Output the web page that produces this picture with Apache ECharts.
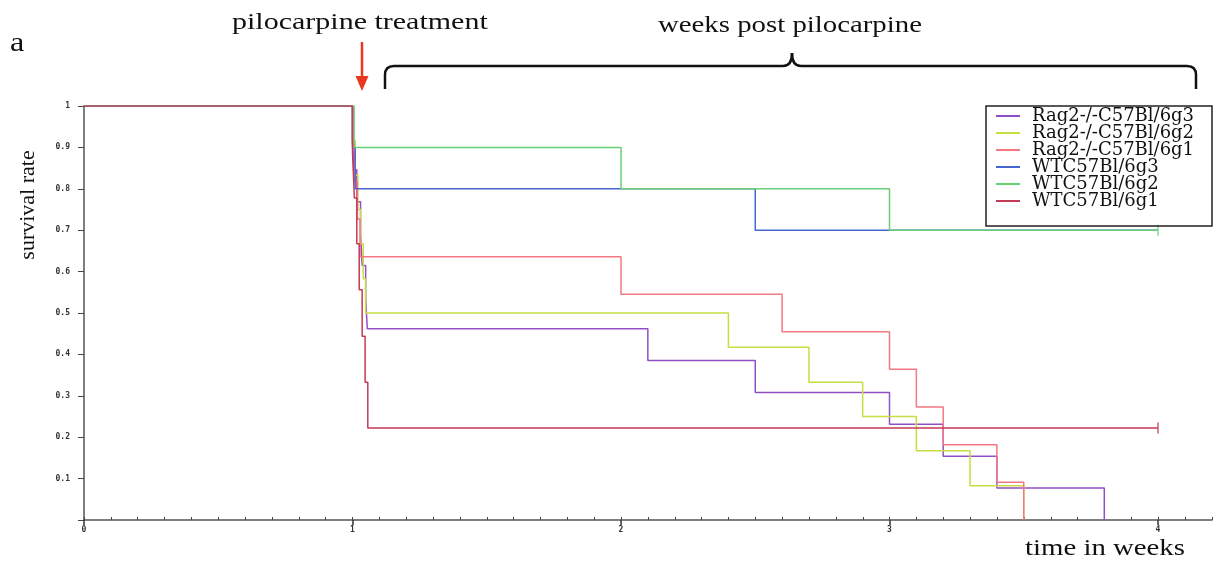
<!DOCTYPE html>
<html>
<head>
<meta charset="utf-8">
<script src="https://cdn.jsdelivr.net/npm/echarts@6/dist/echarts.min.js"></script>
<style>
  html, body { margin: 0; padding: 0; background: #fff; }
  #chart { width: 1213px; height: 561px; }
</style>
</head>
<body>
<div id="chart"></div>
<script>
// Kaplan-Meier steps: survival value holds from time[i] until time[i+1]
const seriesNames = ['Rag2-/-C57Bl/6g3', 'Rag2-/-C57Bl/6g2', 'Rag2-/-C57Bl/6g1', 'WTC57Bl/6g3', 'WTC57Bl/6g2', 'WTC57Bl/6g1']
const seriesColors = ['#9150c6', '#c9dc42', '#f27882', '#4766d0', '#68cf78', '#c53a55']

const rag2g3Time = [0, 1.0, 1.005, 1.016, 1.03, 1.036, 1.049, 1.055, 2.1, 2.5, 3.0, 3.2, 3.4, 3.8]
const rag2g3Surv = [1, 0.923, 0.846, 0.769, 0.692, 0.615, 0.538, 0.462, 0.385, 0.308, 0.231, 0.154, 0.077, 0]

const rag2g2Time = [0, 1.0, 1.01, 1.02, 1.03, 1.04, 1.049, 2.4, 2.7, 2.9, 3.1, 3.3, 3.5]
const rag2g2Surv = [1, 0.917, 0.833, 0.75, 0.667, 0.583, 0.5, 0.417, 0.333, 0.25, 0.167, 0.083, 0]

const rag2g1Time = [0, 1.0, 1.008, 1.018, 1.028, 2.0, 2.6, 3.0, 3.1, 3.2, 3.4, 3.5]
const rag2g1Surv = [1, 0.909, 0.818, 0.727, 0.636, 0.545, 0.455, 0.364, 0.273, 0.182, 0.091, 0]

const wtg3Time = [0, 1.0, 1.01, 2.5, 4.0]
const wtg3Surv = [1, 0.9, 0.8, 0.7, 0.7]

const wtg2Time = [0, 1.006, 2.0, 3.0, 4.0]
const wtg2Surv = [1, 0.9, 0.8, 0.7, 0.7]

const wtg1Time = [0, 1.0, 1.007, 1.016, 1.025, 1.036, 1.047, 1.057, 4.0]
const wtg1Surv = [1, 0.889, 0.778, 0.667, 0.556, 0.444, 0.333, 0.222, 0.222]

// censored at end of follow-up
const censorTime = [4.0, 4.0]
const censorSurv = [0.7, 0.222]
const censorColors = ['#68cf78', '#c53a55']

const xTicks = [0, 1, 2, 3, 4]

const curves = [
  [rag2g3Time, rag2g3Surv],
  [rag2g2Time, rag2g2Surv],
  [rag2g1Time, rag2g1Surv],
  [wtg3Time, wtg3Surv],
  [wtg2Time, wtg2Surv],
  [wtg1Time, wtg1Surv]
]

const zip = (xs, ys) => xs.map((x, i) => [x, ys[i]])

const chart = echarts.init(document.getElementById('chart'), null, { renderer: 'canvas' })

const tiny = { fontFamily: 'DejaVu Sans Mono', fontSize: 8, fontWeight: 'bold', color: '#333' }
const titleFont = '24px "Liberation Serif"'

const lineSeries = curves.map((c, i) => ({
  name: seriesNames[i],
  type: 'line',
  step: 'end',
  xAxisIndex: 0,
  yAxisIndex: 0,
  data: zip(c[0], c[1]),
  symbol: 'none',
  color: seriesColors[i],
  lineStyle: { width: 1.5, color: seriesColors[i] },
  animation: false,
  z: 2 + i
}))

const censorSeries = {
  type: 'scatter',
  xAxisIndex: 0,
  yAxisIndex: 0,
  symbol: 'rect',
  symbolSize: [1.5, 11],
  data: censorTime.map((t, i) => ({ value: [t, censorSurv[i]], itemStyle: { color: censorColors[i] } })),
  animation: false,
  z: 10
}

// curly brace over the post-treatment weeks (decoration)
const braceStroke = { stroke: '#111', lineWidth: 2.5, fill: 'none' }
const brace = [
  { type: 'line', shape: { x1: 385, y1: 89, x2: 385, y2: 75 }, style: braceStroke },
  { type: 'bezierCurve', shape: { x1: 385, y1: 75, cpx1: 385, cpy1: 66, x2: 394, y2: 66 }, style: braceStroke },
  { type: 'line', shape: { x1: 394, y1: 66, x2: 783, y2: 66 }, style: braceStroke },
  { type: 'bezierCurve', shape: { x1: 783, y1: 66, cpx1: 792, cpy1: 66, x2: 792, y2: 53 }, style: braceStroke },
  { type: 'bezierCurve', shape: { x1: 792, y1: 53, cpx1: 792, cpy1: 66, x2: 801, y2: 66 }, style: braceStroke },
  { type: 'line', shape: { x1: 801, y1: 66, x2: 1187, y2: 66 }, style: braceStroke },
  { type: 'bezierCurve', shape: { x1: 1187, y1: 66, cpx1: 1196, cpy1: 66, x2: 1196, y2: 75 }, style: braceStroke },
  { type: 'line', shape: { x1: 1196, y1: 75, x2: 1196, y2: 89 }, style: braceStroke }
]

const option = {
  backgroundColor: '#fff',
  animation: false,
  grid: [
    { left: 84, right: 55, top: 106, bottom: 41 },
    { left: 84, right: 1, top: 106, bottom: 41 }
  ],
  xAxis: [
    {
      type: 'value', gridIndex: 0, min: 0, max: 4, interval: 1,
      axisLine: { show: false },
      axisTick: { show: true, inside: false, length: 5, lineStyle: { color: '#333', width: 1.5 } },
      axisLabel: Object.assign({ margin: 6, formatter: v => xTicks.includes(v) ? String(v) : '' }, tiny),
      splitLine: { show: false }
    },
    {
      type: 'value', gridIndex: 1, min: 0, max: 4.2, interval: 0.1,
      axisLine: { show: true, lineStyle: { color: '#555', width: 1.5 } },
      axisTick: { show: true, inside: true, length: 3, lineStyle: { color: '#444', width: 1 } },
      axisLabel: { show: false },
      splitLine: { show: false }
    }
  ],
  yAxis: [
    {
      type: 'value', gridIndex: 0, min: 0, max: 1, interval: 0.1,
      axisLine: { show: true, lineStyle: { color: '#555', width: 1.5 } },
      axisTick: { show: true, inside: false, length: 6, lineStyle: { color: '#444' } },
      axisLabel: Object.assign({ margin: 14, formatter: v => v === 0 ? '' : String(+v.toFixed(1)) }, tiny),
      splitLine: { show: false }
    },
    { type: 'value', gridIndex: 1, show: false, min: 0, max: 1 }
  ],
  legend: {
    data: seriesNames,
    orient: 'vertical',
    left: 996,
    top: 107,
    itemGap: -1,
    itemWidth: 24,
    itemHeight: 2,
    icon: 'rect',
    padding: 0,
    textStyle: { fontFamily: 'DejaVu Serif', fontSize: 18, lineHeight: 17, color: '#111', padding: [0, 0, 0, 7] }
  },
  graphic: [
    { type: 'rect', shape: { x: 986, y: 106, width: 226, height: 120 }, style: { fill: 'none', stroke: '#222', lineWidth: 1.5 }, z: 100 },
    { type: 'text', x: 10, y: 30, scaleX: 1.15, style: { text: 'a', font: '28px "Liberation Serif"', fill: '#111' } },
    { type: 'text', x: 232, y: 11, scaleX: 1.25, style: { text: 'pilocarpine treatment', font: titleFont, fill: '#111' } },
    { type: 'text', x: 658, y: 14, scaleX: 1.2, style: { text: 'weeks post pilocarpine', font: titleFont, fill: '#111' } },
    { type: 'line', shape: { x1: 362, y1: 42, x2: 362, y2: 80 }, style: { stroke: '#e8361f', lineWidth: 2.5 } },
    { type: 'polygon', shape: { points: [[355.5, 76], [368.5, 76], [362, 91]] }, style: { fill: '#e8361f' } },
    ...brace,
    {
      type: 'text', x: 28, y: 205, rotation: Math.PI / 2,
      style: { text: 'survival rate', font: '22px "Liberation Serif"', fill: '#111', align: 'center', verticalAlign: 'middle' }
    },
    { type: 'text', x: 1025, y: 537, scaleX: 1.2, style: { text: 'time in weeks', font: titleFont, fill: '#111' } }
  ],
  series: [...lineSeries, censorSeries]
}

chart.setOption(option)
</script>
</body>
</html>
